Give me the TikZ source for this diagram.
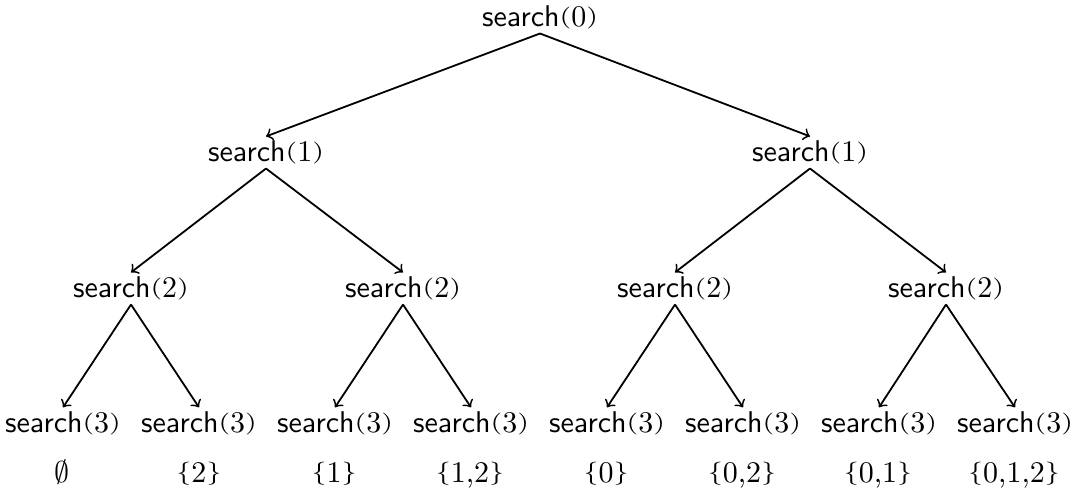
\documentclass[tikz,border=0pt]{standalone}
\usepackage{amssymb}
\usepackage{graphicx}
\newcommand{\myl}{\raisebox{0.8pt}{\scalebox{1}[0.73]{(}}}
\newcommand{\myr}{\raisebox{0.8pt}{\scalebox{1}[0.73]{)}}}
\newcommand{\mylb}{\raisebox{0.9pt}{\scalebox{1}[0.77]{$\{$}}}
\newcommand{\myrb}{\raisebox{0.9pt}{\scalebox{1}[0.77]{$\}$}}}
\newcommand{\srch}[1]{\textsf{search}\myl\textrm{#1}\myr}
\newcommand{\myset}[1]{\mylb\textrm{#1}\myrb}
\begin{document}
\begin{tikzpicture}[x=0.3333pt,y=-0.3333pt,
  call/.style={anchor=base,inner xsep=0pt,inner ysep=0pt,text height=8pt,text depth=2.3pt,font=\normalsize},
  setl/.style={anchor=base,inner sep=0pt},
  arr/.style={->,line width=0.6pt}]
\useasboundingbox (0,0) rectangle (1081,501);
% level 0
\node[call] (r) at (540,26) {\srch{0}};
% level 1
\node[call] (a) at (266,161) {\srch{1}};
\node[call] (b) at (810,161) {\srch{1}};
% level 2
\node[call] (aa) at (131,297) {\srch{2}};
\node[call] (ab) at (403,297) {\srch{2}};
\node[call] (ba) at (675,297) {\srch{2}};
\node[call] (bb) at (946,297) {\srch{2}};
% level 3
\node[call] (l1) at (63,432) {\srch{3}};
\node[call] (l2) at (199,432) {\srch{3}};
\node[call] (l3) at (335,432) {\srch{3}};
\node[call] (l4) at (471,432) {\srch{3}};
\node[call] (l5) at (607,432) {\srch{3}};
\node[call] (l6) at (743,432) {\srch{3}};
\node[call] (l7) at (879,432) {\srch{3}};
\node[call] (l8) at (1015,432) {\srch{3}};
% sets
\node[setl] (s1) at (62,482) {$\emptyset$};
\node[setl] (s2) at (199,482) {\myset{2}};
\node[setl] (s3) at (334,482) {\myset{1}};
\node[setl] (s4) at (470,482) {\myset{1,2}};
\node[setl] (s5) at (606,482) {\myset{0}};
\node[setl] (s6) at (742,482) {\myset{0,2}};
\node[setl] (s7) at (878,482) {\myset{0,1}};
\node[setl] (s8) at (1014,482) {\myset{0,1,2}};
% edges
\draw[arr] (r.south) -- (a.north);
\draw[arr] (r.south) -- (b.north);
\draw[arr] (a.south) -- (aa.north);
\draw[arr] (a.south) -- (ab.north);
\draw[arr] (b.south) -- (ba.north);
\draw[arr] (b.south) -- (bb.north);
\draw[arr] (aa.south) -- (l1.north);
\draw[arr] (aa.south) -- (l2.north);
\draw[arr] (ab.south) -- (l3.north);
\draw[arr] (ab.south) -- (l4.north);
\draw[arr] (ba.south) -- (l5.north);
\draw[arr] (ba.south) -- (l6.north);
\draw[arr] (bb.south) -- (l7.north);
\draw[arr] (bb.south) -- (l8.north);
\end{tikzpicture}
\end{document}
